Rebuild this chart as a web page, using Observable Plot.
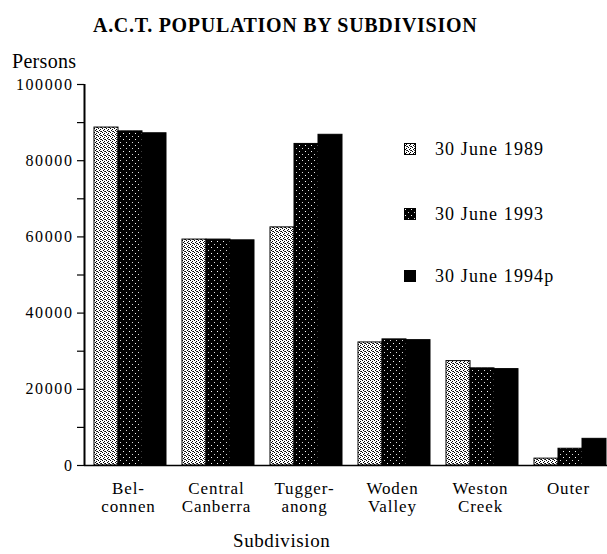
<!DOCTYPE html>
<html>
<head>
<meta charset="utf-8">
<script src="https://cdn.jsdelivr.net/npm/d3@7"></script>
<script src="https://cdn.jsdelivr.net/npm/@observablehq/plot@0.6"></script>
<style>
  html, body { margin: 0; padding: 0; background: #fff; }
  body { font-family: "Liberation Serif", "Times New Roman", serif; color: #000; }
  #wrap { position: relative; width: 607px; height: 554px; overflow: hidden; }
  #chart { position: absolute; left: 0; top: 0; }
  .abs { position: absolute; line-height: 1; white-space: nowrap; }
  #title { left: 93px; top: 15px; font-size: 20px; font-weight: bold; letter-spacing: 0.7px; }
  #ylabel { left: 12px; top: 51px; font-size: 20px; letter-spacing: 0.3px; }
  #xlabel { left: 233px; top: 531px; font-size: 19px; letter-spacing: 0.6px; }
  #legend { left: 404px; top: 0; }
  .item { position: absolute; left: 0; display: flex; align-items: center; }
  .item svg { display: block; }
  .item span { margin-left: 19px; font-size: 18px; letter-spacing: 1.1px; line-height: 1; }
  #chart g[aria-label="y-axis tick label"] text { font-size: 16px; letter-spacing: 1.6px; }
  #chart g[aria-label="fx-axis tick label"] text { font-size: 17px; letter-spacing: 0.9px; }
</style>
</head>
<body>
<svg width="0" height="0" style="position:absolute">
  <defs>
    <pattern id="p1989" width="4" height="4" patternUnits="userSpaceOnUse">
      <rect width="4" height="4" fill="#fff"/>
      <rect x="0" y="0" width="1" height="1" fill="#000"/>
      <rect x="2" y="1" width="1" height="1" fill="#000"/>
      <rect x="1" y="2" width="1" height="1" fill="#000"/>
      <rect x="3" y="3" width="1" height="1" fill="#000"/>
      <rect x="2" y="3" width="1" height="1" fill="#444"/>
    </pattern>
    <pattern id="p1993" width="6" height="6" patternUnits="userSpaceOnUse">
      <rect width="6" height="6" fill="#000"/>
      <rect x="1" y="1" width="1" height="1" fill="#fff"/>
      <rect x="4" y="4" width="1" height="1" fill="#ddd"/>
    </pattern>
  </defs>
</svg>
<div id="wrap">
  <div id="chart"></div>
  <div id="title" class="abs">A.C.T. POPULATION BY SUBDIVISION</div>
  <div id="ylabel" class="abs">Persons</div>
  <div id="xlabel" class="abs">Subdivision</div>
  <div id="legend" class="abs"></div>
</div>
<script>
// ---- data ----
const subdivisions = ["Belconnen", "Central Canberra", "Tuggeranong", "Woden Valley", "Weston Creek", "Outer"];
const subdivisionLabels = ["Bel-\nconnen", "Central\nCanberra", "Tugger-\nanong", "Woden\nValley", "Weston\nCreek", "Outer"];
const series = ["30 June 1989", "30 June 1993", "30 June 1994p"];
const pop1989 = [88700, 59300, 62500, 32300, 27400, 1800];
const pop1993 = [87700, 59300, 84400, 33100, 25500, 4400];
const pop1994p = [87200, 59100, 86800, 32900, 25300, 7000];
const yTicks = [0, 10000, 20000, 30000, 40000, 50000, 60000, 70000, 80000, 90000, 100000];
const yTickLabels = [0, 20000, 40000, 60000, 80000, 100000];
const seriesFills = ["url(#p1989)", "url(#p1993)", "#000"];

// ---- table ----
const seriesValues = [pop1989, pop1993, pop1994p];
const rows = [];
subdivisions.forEach((s, i) => {
  series.forEach((se, j) => rows.push({subdivision: s, series: se, value: seriesValues[j][i]}));
});
const labelOf = new Map(subdivisions.map((s, i) => [s, subdivisionLabels[i]]));

const chart = Plot.plot({
  width: 612,
  height: 554,
  marginLeft: 84,
  marginRight: 0,
  marginTop: 84,
  marginBottom: 89,
  style: {fontFamily: "Liberation Serif, serif", fontSize: "16px", maxWidth: "none", overflow: "visible", color: "#000", background: "transparent"},
  fx: {domain: subdivisions, padding: 0, label: null},
  x: {domain: series, paddingInner: 0, paddingOuter: 0.28, axis: null},
  y: {domain: [0, 100000], label: null},
  color: {domain: series, range: seriesFills},
  marks: [
    Plot.barY(rows, {fx: "subdivision", x: "series", y: "value", fill: "series", stroke: "#000", strokeWidth: 1, dx: 2}),
    Plot.ruleY([0], {stroke: "#000", strokeWidth: 1.5}),
    Plot.axisY({
      ticks: yTicks,
      tickFormat: d => yTickLabels.includes(d) ? String(d) : "",
      tickSize: 7, tickPadding: 4, label: null, stroke: "#000", strokeWidth: 1.2
    }),
    Plot.axisFx({
      anchor: "bottom", tickSize: 0, tickPadding: 16, label: null,
      tickFormat: d => labelOf.get(d), lineHeight: 1.05
    })
  ]
});
document.getElementById("chart").appendChild(chart);

// y-axis line, drawn from the plot's own y scale
const ys = chart.scale("y");
const [yBottom, yTop] = [ys.apply(0), ys.apply(100000)];
d3.select(chart).append("path")
  .attr("d", `M84.5,${yBottom}V${yTop}`)
  .attr("fill", "none")
  .attr("stroke", "#000").attr("stroke-width", 2);

// ---- legend ----
const legendTops = [140, 205, 267];
const legend = document.getElementById("legend");
series.forEach((s, i) => {
  const item = document.createElement("div");
  item.className = "item";
  item.style.top = legendTops[i] + "px";
  item.innerHTML = `<svg width="12" height="12"><rect x="0.5" y="0.5" width="11" height="11" fill="${seriesFills[i]}" stroke="#000"/></svg><span>${s}</span>`;
  legend.appendChild(item);
});
</script>
</body>
</html>
